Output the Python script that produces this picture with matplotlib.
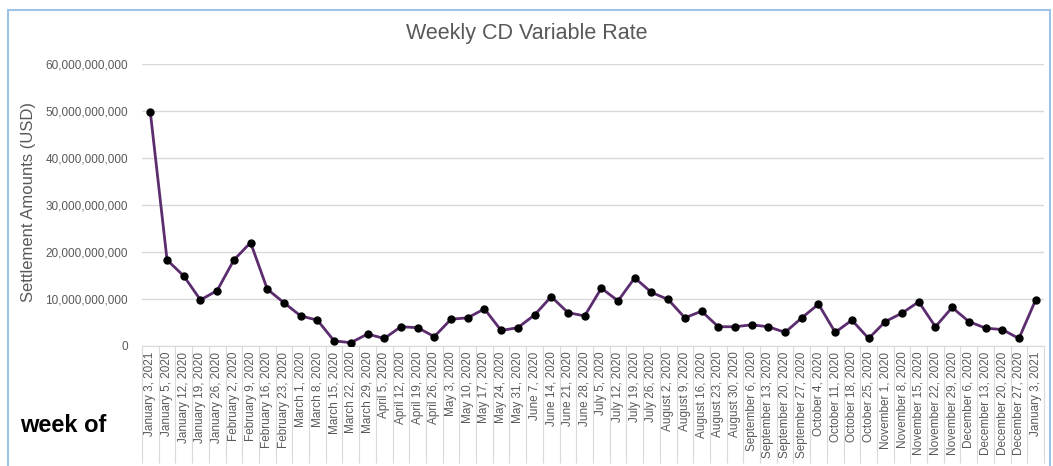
import matplotlib
matplotlib.use('Agg')

import matplotlib.pyplot as plt
import matplotlib.patches as patches
from matplotlib.ticker import FuncFormatter, FixedLocator

plt.rcParams['font.family'] = ['Liberation Sans', 'DejaVu Sans']

# Data
weeks = [
    "January 3, 2021", "January 5, 2020", "January 12, 2020", "January 19, 2020",
    "January 26, 2020", "February 2, 2020", "February 9, 2020", "February 16, 2020",
    "February 23, 2020", "March 1, 2020", "March 8, 2020", "March 15, 2020",
    "March 22, 2020", "March 29, 2020", "April 5, 2020", "April 12, 2020",
    "April 19, 2020", "April 26, 2020", "May 3, 2020", "May 10, 2020",
    "May 17, 2020", "May 24, 2020", "May 31, 2020", "June 7, 2020",
    "June 14, 2020", "June 21, 2020", "June 28, 2020", "July 5, 2020",
    "July 12, 2020", "July 19, 2020", "July 26, 2020", "August 2, 2020",
    "August 9, 2020", "August 16, 2020", "August 23, 2020", "August 30, 2020",
    "September 6, 2020", "September 13, 2020", "September 20, 2020", "September 27, 2020",
    "October 4, 2020", "October 11, 2020", "October 18, 2020", "October 25, 2020",
    "November 1, 2020", "November 8, 2020", "November 15, 2020", "November 22, 2020",
    "November 29, 2020", "December 6, 2020", "December 13, 2020", "December 20, 2020",
    "December 27, 2020", "January 3, 2021",
]

# settlement amounts in billions of USD
amounts_bn = [
    49.7, 18.3, 14.9, 9.8, 11.8, 18.3, 22.0, 12.1, 9.2, 6.4,
    5.5, 1.1, 0.7, 2.55, 1.6, 4.1, 3.9, 2.0, 5.7, 6.0,
    7.9, 3.3, 3.9, 6.6, 10.5, 7.1, 6.4, 12.3, 9.6, 14.5,
    11.4, 9.9, 6.0, 7.4, 4.1, 4.1, 4.5, 4.1, 2.9, 6.0,
    8.9, 2.9, 5.5, 1.6, 5.2, 7.0, 9.4, 4.1, 8.2, 5.2,
    3.8, 3.5, 1.6, 9.8,
]

y_ticks = [0, 10e9, 20e9, 30e9, 40e9, 50e9, 60e9]

GREY = '#595959'
GRID = '#d9d9d9'
LINE = '#5c2d6e'

fig = plt.figure(figsize=(10.53, 4.66), dpi=100)
ax = fig.add_axes([142 / 1053, 1 - 346 / 466, (1044 - 142) / 1053, (346 - 64) / 466])

x = list(range(len(weeks)))
values = [v * 1e9 for v in amounts_bn]
ax.plot(x, values, color=LINE, linewidth=2, marker='o', markersize=5,
        markerfacecolor='black', markeredgecolor='black', zorder=3)

ax.set_xlim(-0.5, len(weeks) - 0.5)
ax.set_ylim(0, 60e9)

# y axis
ax.set_yticks(y_ticks)
ax.yaxis.set_major_formatter(FuncFormatter(lambda v, p: f"{int(v):,}"))
ax.tick_params(axis='y', length=0, pad=10, labelsize=8.5, labelcolor=GREY)
ax.grid(axis='y', color=GRID, linewidth=1)
ax.set_axisbelow(True)

# x axis: separators between categories, labels centred
ax.xaxis.set_major_locator(FixedLocator([i - 0.5 for i in range(len(weeks) + 1)]))
ax.xaxis.set_major_formatter(FuncFormatter(lambda v, p: ""))
ax.xaxis.set_minor_locator(FixedLocator(x))
ax.set_xticklabels(weeks, minor=True, rotation=90, fontsize=8.5, color=GREY)
ax.tick_params(axis='x', which='major', direction='out', length=84, width=0.8, color=GRID)
ax.tick_params(axis='x', which='minor', length=0, pad=4)

for side in ['top', 'right', 'left']:
    ax.spines[side].set_visible(False)
ax.spines['bottom'].set_color(GRID)

# texts
fig.text(527 / 1053, 1 - 33 / 466, "Weekly CD Variable Rate", ha='center', va='center',
         fontsize=15.5, color=GREY)
fig.text(29 / 1053, 1 - 202 / 466, "Settlement Amounts (USD)", rotation=90,
         ha='center', va='center', fontsize=12, color=GREY)
fig.text(20 / 1053, 1 - 425 / 466, "week of", ha='left', va='center',
         fontsize=17, fontweight='bold', color='black')

# chart frame
frame = patches.Rectangle((8 / 1053, -0.05), (1050 - 8) / 1053, 1.05 - 10 / 466,
                          transform=fig.transFigure, fill=False,
                          edgecolor='#9dc3e6', linewidth=1.5)
fig.patches.append(frame)

fig.savefig('out.png', dpi=100, facecolor='white')
plt.close(fig)
